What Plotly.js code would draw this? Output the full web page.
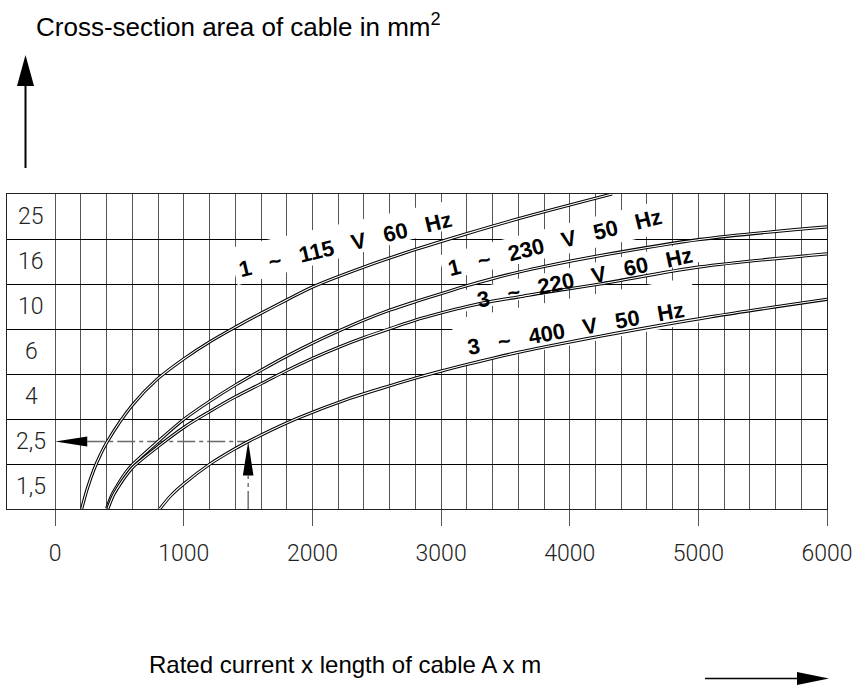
<!DOCTYPE html>
<html><head><meta charset="utf-8">
<script src="https://cdn.plot.ly/plotly-3.0.1.min.js"></script>
<style>html,body{margin:0;padding:0;background:#fff}#chart{width:857px;height:685px}</style>
</head><body><div id="chart"></div>
<script>
// ---------- data ----------
// cross-section rows, bottom to top (row position 0..6)
const areaLabels = ['1,5', '2,5', '4', '6', '10', '16', '25'];
const xTickVals = [0, 1000, 2000, 3000, 4000, 5000, 6000];
const xTickText = ['0', '1000', '2000', '3000', '4000', '5000', '6000'];

// curves: x = rated current x length (A x m), y = row position on the area scale
const c115x = [206, 250, 300, 350, 403, 597, 791, 1001, 1204, 1406, 1600, 1802, 2004, 2401, 2805, 3202, 3613, 4329];
const c115y = [-0.49, -0.04, 0.37, 0.70, 0.99, 1.80, 2.38, 2.84, 3.22, 3.55, 3.85, 4.15, 4.44, 4.88, 5.27, 5.62, 5.96, 6.5];

const c230x = [400, 439, 478, 517, 556, 595, 799, 994, 1204, 1398, 1605, 1802, 2002, 2199, 2401, 2603, 2803, 3005, 3199, 3401, 3598, 3800, 4235, 5012, 6000];
const c230y = [-0.49, -0.20, 0.0, 0.18, 0.34, 0.47, 1.0, 1.48, 1.90, 2.25, 2.59, 2.90, 3.19, 3.45, 3.70, 3.92, 4.11, 4.29, 4.46, 4.62, 4.76, 4.89, 5.13, 5.49, 5.77];

const c220x = [410, 449, 488, 527, 566, 604, 814, 1009, 1203, 1398, 1605, 1802, 2002, 2199, 2401, 2603, 2803, 3005, 3199, 3401, 3598, 3800, 4235, 5012, 6000];
const c220y = [-0.49, -0.21, -0.02, 0.15, 0.30, 0.43, 0.92, 1.33, 1.67, 1.99, 2.29, 2.58, 2.85, 3.09, 3.31, 3.51, 3.70, 3.86, 4.00, 4.12, 4.21, 4.31, 4.50, 4.88, 5.17];

const c400x = [815, 900, 996, 1203, 1398, 1501, 1605, 1888, 2292, 2603, 2803, 3005, 3199, 3401, 3598, 3800, 4235, 5091, 6000];
const c400y = [-0.49, -0.20, 0.05, 0.50, 0.84, 1.0, 1.15, 1.52, 1.96, 2.24, 2.41, 2.57, 2.71, 2.85, 2.98, 3.10, 3.34, 3.77, 4.16];

const curveNames = ['1 ~ 115 V 60 Hz', '1 ~ 230 V 50 Hz', '3 ~ 220 V 60 Hz', '3 ~ 400 V 50 Hz'];

// worked example: 1500 A x m on the 3 ~ 400 V curve gives 2,5 mm2 (row 1)
const exampleX = 1500;
const exampleRow = 1;

// ---------- geometry helpers ----------
const W = 857, H = 685;
const M = {l: 7, r: 30, t: 194, b: 176};
const PW = W - M.l - M.r, PH = H - M.t - M.b;
const xRange = [-375, 6000], yRange = [-0.5, 6.5];
const px2x = px => xRange[0] + (px - M.l) / PW * (xRange[1] - xRange[0]);
const py2y = py => yRange[1] - (py - M.t) / PH * (yRange[1] - yRange[0]);
const x2px = x => M.l + (x - xRange[0]) / (xRange[1] - xRange[0]) * PW;
const y2py = y => M.t + (yRange[1] - y) / (yRange[1] - yRange[0]) * PH;
const ppx = px => (px - M.l) / PW;
const ppy = py => (H - M.b - py) / PH;

// ---------- traces ----------
const curves = [[c115x, c115y], [c230x, c230y], [c220x, c220y], [c400x, c400y]];
const traces = [];
curves.forEach((c, i) => {
  traces.push({x: c[0], y: c[1], type: 'scatter', mode: 'lines', name: curveNames[i],
    line: {color: '#000', width: 3.2, shape: 'spline', smoothing: 0.9}, hoverinfo: 'skip', showlegend: false});
  traces.push({x: c[0], y: c[1], type: 'scatter', mode: 'lines', name: curveNames[i] + ' inner',
    line: {color: '#fff', width: 1.1, shape: 'spline', smoothing: 0.9}, hoverinfo: 'skip', showlegend: false});
});

// ---------- gridlines ----------
const minorVals = [];
for (let v = 200; v < 6000; v += 200) minorVals.push(v);
const rowEdges = [];
for (let k = 0; k <= areaLabels.length; k++) rowEdges.push(k - 0.5);

// ---------- label placement (pixels) ----------
const labelPos = [
  {cx: 345, cy: 244, ang: 13.5, L: 114, upL: 23, upR: 18, downL: 15, downR: 10},
  {cx: 555, cy: 242, ang: 14, L: 116, upL: 15, upR: 15, downL: 10, downR: 18},
  {cx: 585, cy: 277, ang: 12, L: 124, upL: 12, upR: 12, downL: 9, downR: 9},
  {cx: 576, cy: 328, ang: 10, L: 122, upL: 30, upR: 30, downL: 16, downR: 16}
];

const shapes = [];
labelPos.forEach(p => {
  const a = p.ang * Math.PI / 180;
  const ux = Math.cos(a), uy = -Math.sin(a);      // along text (pixels)
  const nx = -Math.sin(a), ny = -Math.cos(a);     // upward normal
  const pts = [
    [p.cx - ux * p.L + nx * p.upL, p.cy - uy * p.L + ny * p.upL],
    [p.cx + ux * p.L + nx * p.upR, p.cy + uy * p.L + ny * p.upR],
    [p.cx + ux * p.L - nx * p.downR, p.cy + uy * p.L - ny * p.downR],
    [p.cx - ux * p.L - nx * p.downL, p.cy - uy * p.L - ny * p.downL]
  ];
  const path = 'M ' + pts.map(q => px2x(q[0]).toFixed(2) + ',' + py2y(q[1]).toFixed(4)).join(' L ') + ' Z';
  shapes.push({type: 'path', path: path, xref: 'x', yref: 'y', fillcolor: '#fff', line: {width: 0}, layer: 'between'});
});

// worked example: dash-dot guide lines and arrows
const ex = exampleX, ey = exampleRow;
const exPx = x2px(ex), eyPx = y2py(ey);
const leftTip = x2px(0);
shapes.push({type: 'line', xref: 'x', yref: 'y', x0: px2x(leftTip + 32), x1: ex, y0: ey, y1: ey,
  line: {color: '#6a6a6a', width: 1.4, dash: '18px,4px,4px,4px'}, layer: 'between'});
shapes.push({type: 'line', xref: 'x', yref: 'y', x0: ex, x1: ex, y0: yRange[0], y1: py2y(eyPx + 34),
  line: {color: '#6a6a6a', width: 1.4, dash: '18px,4px,4px,4px'}, layer: 'between'});
shapes.push({type: 'path', xref: 'x', yref: 'y', fillcolor: '#000', line: {width: 0},
  path: `M ${px2x(leftTip)},${ey} L ${px2x(leftTip + 32)},${py2y(eyPx - 5)} L ${px2x(leftTip + 32)},${py2y(eyPx + 5)} Z`});
shapes.push({type: 'path', xref: 'x', yref: 'y', fillcolor: '#000', line: {width: 0},
  path: `M ${ex},${ey} L ${px2x(exPx - 5.3)},${py2y(eyPx + 34)} L ${px2x(exPx + 5.3)},${py2y(eyPx + 34)} Z`});

// outer direction arrows (paper coordinates)
shapes.push({type: 'line', xref: 'paper', yref: 'paper', x0: ppx(25.5), x1: ppx(25.5), y0: ppy(168), y1: ppy(84),
  line: {color: '#000', width: 2}});
shapes.push({type: 'path', xref: 'paper', yref: 'paper', fillcolor: '#000', line: {width: 0},
  path: `M ${ppx(25.5)},${ppy(55)} L ${ppx(17)},${ppy(86)} L ${ppx(34)},${ppy(86)} Z`});
shapes.push({type: 'line', xref: 'paper', yref: 'paper', x0: ppx(705), x1: ppx(800), y0: ppy(678.5), y1: ppy(678.5),
  line: {color: '#000', width: 1.5}});
shapes.push({type: 'path', xref: 'paper', yref: 'paper', fillcolor: '#000', line: {width: 0},
  path: `M ${ppx(829)},${ppy(678.5)} L ${ppx(797)},${ppy(672)} L ${ppx(797)},${ppy(685)} Z`});

// ---------- annotations ----------
const thin = {family: 'Roboto, "DejaVu Sans", sans-serif', size: 23, color: '#222', weight: 300};
const annotations = [];
areaLabels.forEach((t, i) => {
  annotations.push({x: px2x(31), y: i, xref: 'x', yref: 'y', text: t, showarrow: false,
    xanchor: 'center', yanchor: 'middle', font: thin});
});
const sp = '\u00A0\u00A0\u00A0';
curveNames.forEach((t, i) => {
  const p = labelPos[i];
  annotations.push({x: px2x(p.cx), y: py2y(p.cy), xref: 'x', yref: 'y', text: t.split(' ').join(sp),
    showarrow: false, textangle: -p.ang, xanchor: 'center', yanchor: 'middle',
    font: {family: '"Liberation Sans", Arial, sans-serif', size: 22, color: '#000', weight: 'bold'}});
});
annotations.push({xref: 'paper', yref: 'paper', x: ppx(34), y: ppy(26), xanchor: 'left', yanchor: 'middle',
  text: 'Cross-section area of cable in mm<sup>2</sup>', showarrow: false,
  font: {family: '"Liberation Sans", Arial, sans-serif', size: 26, color: '#000'}});
annotations.push({xref: 'paper', yref: 'paper', x: ppx(147), y: ppy(664), xanchor: 'left', yanchor: 'middle',
  text: 'Rated current x length of cable A x m', showarrow: false,
  font: {family: '"Liberation Sans", Arial, sans-serif', size: 24, color: '#000'}});

const layout = {
  width: W, height: H, margin: M, paper_bgcolor: '#fff', plot_bgcolor: '#fff', showlegend: false,
  xaxis: {range: xRange, tickmode: 'array', tickvals: xTickVals, ticktext: xTickText,
    ticks: 'outside', ticklen: 16, tickcolor: '#555', tickwidth: 1,
    showgrid: true, gridcolor: '#555', gridwidth: 1, zeroline: false,
    showline: true, mirror: true, linecolor: '#222', linewidth: 1,
    tickfont: {family: 'Roboto, "DejaVu Sans", sans-serif', size: 23, color: '#222', weight: 300},
    ticklabelstandoff: 7,
    minor: {tickmode: 'array', tickvals: minorVals, showgrid: true, gridcolor: '#555', gridwidth: 1, ticks: ''},
    fixedrange: true},
  yaxis: {range: yRange, tickmode: 'array', tickvals: rowEdges, showticklabels: false, ticks: '',
    showgrid: true, gridcolor: '#000', gridwidth: 1, zeroline: false,
    showline: true, mirror: true, linecolor: '#222', linewidth: 1, fixedrange: true},
  shapes: shapes,
  annotations: annotations
};

Plotly.newPlot('chart', traces, layout, {displayModeBar: false, staticPlot: true});
</script>
</body></html>
